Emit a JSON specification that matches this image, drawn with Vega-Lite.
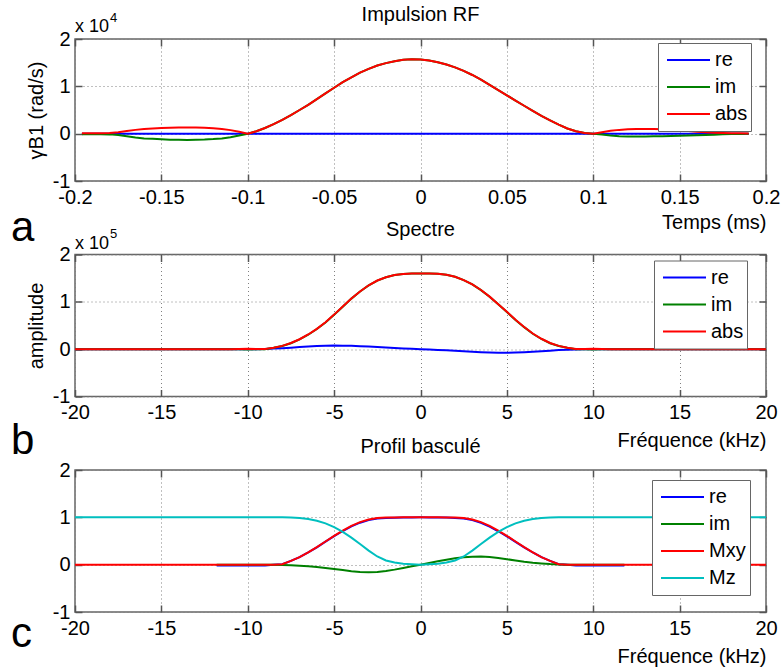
{
  "$schema": "https://vega.github.io/schema/vega-lite/v6.json",
  "padding": {"left": 10, "top": 4, "right": 0, "bottom": 0},
  "autosize": {"type": "pad"},
  "bounds": "flush",
  "spacing": 73.5,
  "background": "white",
  "config": {
    "font": "Liberation Sans",
    "view": {"stroke": "#666666", "strokeWidth": 1.5},
    "axis": {"labelFont": "Liberation Sans", "labelFontSize": 20, "labelColor": "#000000", "titleFont": "Liberation Sans", "titleFontSize": 20, "titleFontWeight": "normal", "titleColor": "#000000", "gridColor": "#808080", "gridDash": [1, 3], "gridOpacity": 1, "gridWidth": 1, "labelFlush": false, "labelOverlap": false},
    "title": {"font": "Liberation Sans", "fontSize": 20, "fontWeight": "normal", "color": "#000000", "frame": "group", "baseline": "alphabetic"},
    "text": {"font": "Liberation Sans", "color": "#000000"},
    "legend": {"orient": "none", "title": null, "symbolType": "stroke", "symbolSize": 1849, "symbolStrokeWidth": 2, "clipHeight": 27, "labelFont": "Liberation Sans", "labelFontSize": 20, "labelColor": "#000000", "fillColor": "white", "strokeColor": "#666666", "padding": 3.5, "labelOffset": 4, "symbolOffset": 4.5, "rowPadding": 0}
  },
  "resolve": {"scale": {"x": "independent", "y": "independent", "color": "independent"}, "legend": {"color": "independent"}},
  "vconcat": [
    {
      "width": 691, "height": 142,
      "title": {"text": "Impulsion RF", "offset": -13},
      "data": {"values": [
        {"t": -0.196, "re": 0, "im": -100, "abs": 100},
        {"t": -0.19, "re": 0, "im": -100, "abs": 100},
        {"t": -0.185, "re": 0, "im": -100, "abs": 100},
        {"t": -0.18, "re": 0, "im": -150, "abs": 150},
        {"t": -0.175, "re": 0, "im": -300, "abs": 300},
        {"t": -0.17, "re": 0, "im": -550, "abs": 550},
        {"t": -0.165, "re": 0, "im": -800, "abs": 800},
        {"t": -0.16, "re": 0, "im": -1000, "abs": 1000},
        {"t": -0.155, "re": 0, "im": -1100, "abs": 1100},
        {"t": -0.15, "re": 0, "im": -1200, "abs": 1200},
        {"t": -0.145, "re": 0, "im": -1270, "abs": 1270},
        {"t": -0.14, "re": 0, "im": -1300, "abs": 1300},
        {"t": -0.135, "re": 0, "im": -1320, "abs": 1320},
        {"t": -0.13, "re": 0, "im": -1300, "abs": 1300},
        {"t": -0.125, "re": 0, "im": -1250, "abs": 1250},
        {"t": -0.12, "re": 0, "im": -1150, "abs": 1150},
        {"t": -0.115, "re": 0, "im": -1000, "abs": 1000},
        {"t": -0.11, "re": 0, "im": -750, "abs": 750},
        {"t": -0.105, "re": 0, "im": -400, "abs": 400},
        {"t": -0.1, "re": 0, "im": 0, "abs": 0},
        {"t": -0.095, "re": 0, "im": 500, "abs": 500},
        {"t": -0.09, "re": 0, "im": 1200, "abs": 1200},
        {"t": -0.085, "re": 0, "im": 2000, "abs": 2000},
        {"t": -0.08, "re": 0, "im": 2900, "abs": 2900},
        {"t": -0.075, "re": 0, "im": 3900, "abs": 3900},
        {"t": -0.07, "re": 0, "im": 5000, "abs": 5000},
        {"t": -0.065, "re": 0, "im": 6100, "abs": 6100},
        {"t": -0.06, "re": 0, "im": 7300, "abs": 7300},
        {"t": -0.055, "re": 0, "im": 8500, "abs": 8500},
        {"t": -0.05, "re": 0, "im": 9700, "abs": 9700},
        {"t": -0.045, "re": 0, "im": 10900, "abs": 10900},
        {"t": -0.04, "re": 0, "im": 11900, "abs": 11900},
        {"t": -0.035, "re": 0, "im": 12900, "abs": 12900},
        {"t": -0.03, "re": 0, "im": 13700, "abs": 13700},
        {"t": -0.025, "re": 0, "im": 14400, "abs": 14400},
        {"t": -0.02, "re": 0, "im": 14900, "abs": 14900},
        {"t": -0.015, "re": 0, "im": 15300, "abs": 15300},
        {"t": -0.01, "re": 0, "im": 15600, "abs": 15600},
        {"t": -0.005, "re": 0, "im": 15700, "abs": 15700},
        {"t": 0, "re": 0, "im": 15650, "abs": 15650},
        {"t": 0.005, "re": 0, "im": 15450, "abs": 15450},
        {"t": 0.01, "re": 0, "im": 15100, "abs": 15100},
        {"t": 0.015, "re": 0, "im": 14600, "abs": 14600},
        {"t": 0.02, "re": 0, "im": 14000, "abs": 14000},
        {"t": 0.025, "re": 0, "im": 13250, "abs": 13250},
        {"t": 0.03, "re": 0, "im": 12400, "abs": 12400},
        {"t": 0.035, "re": 0, "im": 11400, "abs": 11400},
        {"t": 0.04, "re": 0, "im": 10300, "abs": 10300},
        {"t": 0.045, "re": 0, "im": 9200, "abs": 9200},
        {"t": 0.05, "re": 0, "im": 8100, "abs": 8100},
        {"t": 0.055, "re": 0, "im": 7000, "abs": 7000},
        {"t": 0.06, "re": 0, "im": 5900, "abs": 5900},
        {"t": 0.065, "re": 0, "im": 4800, "abs": 4800},
        {"t": 0.07, "re": 0, "im": 3750, "abs": 3750},
        {"t": 0.075, "re": 0, "im": 2800, "abs": 2800},
        {"t": 0.08, "re": 0, "im": 1900, "abs": 1900},
        {"t": 0.085, "re": 0, "im": 1100, "abs": 1100},
        {"t": 0.09, "re": 0, "im": 500, "abs": 500},
        {"t": 0.095, "re": 0, "im": 150, "abs": 150},
        {"t": 0.1, "re": 0, "im": 0, "abs": 0},
        {"t": 0.105, "re": 0, "im": -200, "abs": 300},
        {"t": 0.11, "re": 0, "im": -400, "abs": 600},
        {"t": 0.115, "re": 0, "im": -520, "abs": 800},
        {"t": 0.12, "re": 0, "im": -580, "abs": 920},
        {"t": 0.125, "re": 0, "im": -600, "abs": 1000},
        {"t": 0.13, "re": 0, "im": -600, "abs": 1000},
        {"t": 0.135, "re": 0, "im": -570, "abs": 980},
        {"t": 0.14, "re": 0, "im": -520, "abs": 920},
        {"t": 0.145, "re": 0, "im": -470, "abs": 820},
        {"t": 0.15, "re": 0, "im": -420, "abs": 700},
        {"t": 0.155, "re": 0, "im": -380, "abs": 550},
        {"t": 0.16, "re": 0, "im": -340, "abs": 400},
        {"t": 0.165, "re": 0, "im": -300, "abs": 280},
        {"t": 0.17, "re": 0, "im": -220, "abs": 200},
        {"t": 0.175, "re": 0, "im": -140, "abs": 140},
        {"t": 0.18, "re": 0, "im": -80, "abs": 100},
        {"t": 0.185, "re": 0, "im": -50, "abs": 80},
        {"t": 0.19, "re": 0, "im": -40, "abs": 60}
      ]},
      "resolve": {"axis": {"x": "independent", "y": "independent"}},
      "layer": [
        {
          "mark": {"type": "line", "strokeWidth": 2},
          "encoding": {
            "x": {"field": "t", "type": "quantitative", "scale": {"domain": [-0.2, 0.2], "nice": false, "zero": false},
              "axis": {"orient": "bottom", "values": [-0.2, -0.15, -0.1, -0.05, 0, 0.05, 0.1, 0.15, 0.2], "labelExpr": "replace(format(datum.value, '.2~f'), '−', '-')", "ticks": false, "tickSize": 0, "domain": false, "grid": true, "labelPadding": 6, "title": "Temps (ms)", "titleX": 691, "titleY": 47, "titleAlign": "right", "titleAnchor": "end", "titleBaseline": "alphabetic"}},
            "y": {"field": "re", "type": "quantitative", "scale": {"domain": [-10000, 20000], "nice": false, "zero": false},
              "axis": {"orient": "left", "values": [-10000, 0, 10000, 20000], "labelExpr": "replace(format(datum.value / 10000, 'd'), '−', '-')", "ticks": false, "tickSize": 0, "domain": false, "grid": true, "labelPadding": 5, "title": "γB1 (rad/s)", "titleX": -33, "titleY": 71, "titleAlign": "center", "titleAnchor": "middle", "titleBaseline": "alphabetic"}},
            "color": {"datum": "re", "type": "nominal", "scale": {"domain": ["re", "im", "abs"], "range": ["#0000FF", "#008000", "#FF0000"]}, "legend": {"legendX": 583, "legendY": 4}}
          }
        },
        {
          "mark": {"type": "line", "strokeWidth": 2},
          "encoding": {
            "x": {"field": "t", "type": "quantitative", "axis": {"orient": "bottom", "values": [-0.2, -0.15, -0.1, -0.05, 0, 0.05, 0.1, 0.15, 0.2], "labels": false, "ticks": true, "tickSize": -7, "tickColor": "#555555", "tickWidth": 1.5, "domain": false, "grid": false, "title": null}},
            "y": {"field": "im", "type": "quantitative", "axis": {"orient": "left", "values": [-10000, 0, 10000, 20000], "labels": false, "ticks": true, "tickSize": -7, "tickColor": "#555555", "tickWidth": 1.5, "domain": false, "grid": false, "title": null}},
            "color": {"datum": "im", "type": "nominal"}
          }
        },
        {
          "mark": {"type": "line", "strokeWidth": 2},
          "encoding": {
            "x": {"field": "t", "type": "quantitative", "axis": {"orient": "top", "values": [-0.2, -0.15, -0.1, -0.05, 0, 0.05, 0.1, 0.15, 0.2], "labels": false, "ticks": true, "tickSize": -7, "tickColor": "#555555", "tickWidth": 1.5, "domain": false, "grid": false, "title": null}},
            "y": {"field": "abs", "type": "quantitative", "axis": {"orient": "right", "values": [-10000, 0, 10000, 20000], "labels": false, "ticks": true, "tickSize": -7, "tickColor": "#555555", "tickWidth": 1.5, "domain": false, "grid": false, "title": null}},
            "color": {"datum": "abs", "type": "nominal"}
          }
        },
        {
          "data": {"values": [{"label": "x 10"}]},
          "mark": {"type": "text", "align": "left", "baseline": "alphabetic", "fontSize": 18, "dy": -7},
          "encoding": {"x": {"datum": -0.2, "type": "quantitative", "axis": null}, "y": {"datum": 20000, "type": "quantitative", "axis": null}, "text": {"field": "label"}}
        },
        {
          "data": {"values": [{"label": "4"}]},
          "mark": {"type": "text", "align": "left", "baseline": "alphabetic", "fontSize": 13, "dx": 35, "dy": -17},
          "encoding": {"x": {"datum": -0.2, "type": "quantitative", "axis": null}, "y": {"datum": 20000, "type": "quantitative", "axis": null}, "text": {"field": "label"}}
        },
        {
          "data": {"values": [{"label": "a"}]},
          "mark": {"type": "text", "align": "left", "baseline": "alphabetic", "fontSize": 42, "dx": -64, "dy": 60},
          "encoding": {"x": {"datum": -0.2, "type": "quantitative", "axis": null}, "y": {"datum": -10000, "type": "quantitative", "axis": null}, "text": {"field": "label"}}
        }
      ]
    },
    {
      "width": 691, "height": 142,
      "title": {"text": "Spectre", "offset": -12},
      "data": {"values": [
        {"f": -20, "re": 0, "im": 0, "abs": 0},
        {"f": -15, "re": 0, "im": 0, "abs": 0},
        {"f": -11, "re": 0, "im": 0, "abs": 0},
        {"f": -10.5, "re": 0, "im": -400, "abs": 400},
        {"f": -10, "re": 0, "im": -800, "abs": 800},
        {"f": -9.5, "re": 0, "im": -400, "abs": 400},
        {"f": -9, "re": 500, "im": 0, "abs": 500},
        {"f": -8.5, "re": 1200, "im": 2800, "abs": 3000},
        {"f": -8, "re": 2000, "im": 6700, "abs": 7000},
        {"f": -7.5, "re": 3200, "im": 12600, "abs": 13000},
        {"f": -7, "re": 4500, "im": 20500, "abs": 21000},
        {"f": -6.5, "re": 5600, "im": 30500, "abs": 31000},
        {"f": -6, "re": 6500, "im": 42500, "abs": 43000},
        {"f": -5.5, "re": 7100, "im": 56500, "abs": 57000},
        {"f": -5, "re": 7500, "im": 72600, "abs": 73000},
        {"f": -4.5, "re": 7400, "im": 89700, "abs": 90000},
        {"f": -4, "re": 7000, "im": 106800, "abs": 107000},
        {"f": -3.5, "re": 6300, "im": 121800, "abs": 122000},
        {"f": -3, "re": 5500, "im": 134900, "abs": 135000},
        {"f": -2.5, "re": 4500, "im": 144900, "abs": 145000},
        {"f": -2, "re": 3500, "im": 152000, "abs": 152000},
        {"f": -1.5, "re": 2500, "im": 156500, "abs": 156500},
        {"f": -1, "re": 1500, "im": 159000, "abs": 159000},
        {"f": -0.5, "re": 700, "im": 160000, "abs": 160000},
        {"f": 0, "re": 0, "im": 160000, "abs": 160000},
        {"f": 0.5, "re": -700, "im": 160000, "abs": 160000},
        {"f": 1, "re": -1500, "im": 159500, "abs": 159500},
        {"f": 1.5, "re": -2500, "im": 157000, "abs": 157000},
        {"f": 2, "re": -3500, "im": 153000, "abs": 153000},
        {"f": 2.5, "re": -4500, "im": 145900, "abs": 146000},
        {"f": 3, "re": -5500, "im": 136900, "abs": 137000},
        {"f": 3.5, "re": -6300, "im": 124800, "abs": 125000},
        {"f": 4, "re": -7000, "im": 110800, "abs": 111000},
        {"f": 4.5, "re": -7400, "im": 94700, "abs": 95000},
        {"f": 5, "re": -7500, "im": 78600, "abs": 79000},
        {"f": 5.5, "re": -7100, "im": 61600, "abs": 62000},
        {"f": 6, "re": -6500, "im": 46500, "abs": 47000},
        {"f": 6.5, "re": -5600, "im": 32500, "abs": 33000},
        {"f": 7, "re": -4500, "im": 21500, "abs": 22000},
        {"f": 7.5, "re": -3200, "im": 12600, "abs": 13000},
        {"f": 8, "re": -2000, "im": 6700, "abs": 7000},
        {"f": 8.5, "re": -1200, "im": 2800, "abs": 3000},
        {"f": 9, "re": -500, "im": 0, "abs": 500},
        {"f": 9.5, "re": 0, "im": -400, "abs": 400},
        {"f": 10, "re": 0, "im": -800, "abs": 800},
        {"f": 10.5, "re": 0, "im": -400, "abs": 400},
        {"f": 11, "re": 0, "im": 0, "abs": 0},
        {"f": 15, "re": 0, "im": 0, "abs": 0},
        {"f": 20, "re": 0, "im": 0, "abs": 0}
      ]},
      "resolve": {"axis": {"x": "independent", "y": "independent"}},
      "layer": [
        {
          "mark": {"type": "line", "strokeWidth": 2},
          "encoding": {
            "x": {"field": "f", "type": "quantitative", "scale": {"domain": [-20, 20], "nice": false, "zero": false},
              "axis": {"orient": "bottom", "values": [-20, -15, -10, -5, 0, 5, 10, 15, 20], "labelExpr": "replace(format(datum.value, 'd'), '−', '-')", "ticks": false, "tickSize": 0, "domain": false, "grid": true, "labelPadding": 6, "title": "Fréquence (kHz)", "titleX": 691, "titleY": 50, "titleAlign": "right", "titleAnchor": "end", "titleBaseline": "alphabetic"}},
            "y": {"field": "re", "type": "quantitative", "scale": {"domain": [-100000, 200000], "nice": false, "zero": false},
              "axis": {"orient": "left", "values": [-100000, 0, 100000, 200000], "labelExpr": "replace(format(datum.value / 100000, 'd'), '−', '-')", "ticks": false, "tickSize": 0, "domain": false, "grid": true, "labelPadding": 5, "title": "amplitude", "titleX": -33, "titleY": 71, "titleAlign": "center", "titleAnchor": "middle", "titleBaseline": "alphabetic"}},
            "color": {"datum": "re", "type": "nominal", "scale": {"domain": ["re", "im", "abs"], "range": ["#0000FF", "#008000", "#FF0000"]}, "legend": {"legendX": 579, "legendY": 6}}
          }
        },
        {
          "mark": {"type": "line", "strokeWidth": 2},
          "encoding": {
            "x": {"field": "f", "type": "quantitative", "axis": {"orient": "bottom", "values": [-20, -15, -10, -5, 0, 5, 10, 15, 20], "labels": false, "ticks": true, "tickSize": -7, "tickColor": "#555555", "tickWidth": 1.5, "domain": false, "grid": false, "title": null}},
            "y": {"field": "im", "type": "quantitative", "axis": {"orient": "left", "values": [-100000, 0, 100000, 200000], "labels": false, "ticks": true, "tickSize": -7, "tickColor": "#555555", "tickWidth": 1.5, "domain": false, "grid": false, "title": null}},
            "color": {"datum": "im", "type": "nominal"}
          }
        },
        {
          "mark": {"type": "line", "strokeWidth": 2},
          "encoding": {
            "x": {"field": "f", "type": "quantitative", "axis": {"orient": "top", "values": [-20, -15, -10, -5, 0, 5, 10, 15, 20], "labels": false, "ticks": true, "tickSize": -7, "tickColor": "#555555", "tickWidth": 1.5, "domain": false, "grid": false, "title": null}},
            "y": {"field": "abs", "type": "quantitative", "axis": {"orient": "right", "values": [-100000, 0, 100000, 200000], "labels": false, "ticks": true, "tickSize": -7, "tickColor": "#555555", "tickWidth": 1.5, "domain": false, "grid": false, "title": null}},
            "color": {"datum": "abs", "type": "nominal"}
          }
        },
        {
          "data": {"values": [{"label": "x 10"}]},
          "mark": {"type": "text", "align": "left", "baseline": "alphabetic", "fontSize": 18, "dy": -6},
          "encoding": {"x": {"datum": -20, "type": "quantitative", "axis": null}, "y": {"datum": 200000, "type": "quantitative", "axis": null}, "text": {"field": "label"}}
        },
        {
          "data": {"values": [{"label": "5"}]},
          "mark": {"type": "text", "align": "left", "baseline": "alphabetic", "fontSize": 13, "dx": 35, "dy": -17},
          "encoding": {"x": {"datum": -20, "type": "quantitative", "axis": null}, "y": {"datum": 200000, "type": "quantitative", "axis": null}, "text": {"field": "label"}}
        },
        {
          "data": {"values": [{"label": "b"}]},
          "mark": {"type": "text", "align": "left", "baseline": "alphabetic", "fontSize": 42, "dx": -64, "dy": 57},
          "encoding": {"x": {"datum": -20, "type": "quantitative", "axis": null}, "y": {"datum": -100000, "type": "quantitative", "axis": null}, "text": {"field": "label"}}
        }
      ]
    },
    {
      "width": 691, "height": 142,
      "title": {"text": "Profil basculé", "offset": 3},
      "data": {"values": [
        {"f": -20, "Mxy": 0, "Mz": 1},
        {"f": -15, "Mxy": 0, "Mz": 1},
        {"f": -12, "Mxy": 0, "Mz": 1},
        {"f": -11.8, "re": -0.015, "im": 0, "Mxy": 0, "Mz": 1},
        {"f": -11, "re": -0.015, "im": 0, "Mxy": 0, "Mz": 1},
        {"f": -10, "re": -0.015, "im": 0, "Mxy": 0, "Mz": 1},
        {"f": -9, "re": -0.015, "im": 0, "Mxy": 0, "Mz": 1},
        {"f": -8.5, "re": 0, "im": 0, "Mxy": 0, "Mz": 1},
        {"f": -8, "re": 0.009, "im": -0.005, "Mxy": 0.01, "Mz": 1},
        {"f": -7.5, "re": 0.079, "im": -0.012, "Mxy": 0.08, "Mz": 0.997},
        {"f": -7, "re": 0.158, "im": -0.022, "Mxy": 0.16, "Mz": 0.987},
        {"f": -6.5, "re": 0.258, "im": -0.035, "Mxy": 0.26, "Mz": 0.966},
        {"f": -6, "re": 0.367, "im": -0.05, "Mxy": 0.37, "Mz": 0.929},
        {"f": -5.5, "re": 0.485, "im": -0.07, "Mxy": 0.49, "Mz": 0.872},
        {"f": -5, "re": 0.603, "im": -0.09, "Mxy": 0.61, "Mz": 0.792},
        {"f": -4.5, "re": 0.711, "im": -0.115, "Mxy": 0.72, "Mz": 0.694},
        {"f": -4, "re": 0.808, "im": -0.14, "Mxy": 0.82, "Mz": 0.572},
        {"f": -3.5, "re": 0.887, "im": -0.155, "Mxy": 0.9, "Mz": 0.436},
        {"f": -3, "re": 0.941, "im": -0.16, "Mxy": 0.955, "Mz": 0.297},
        {"f": -2.5, "re": 0.973, "im": -0.155, "Mxy": 0.985, "Mz": 0.173},
        {"f": -2, "re": 0.987, "im": -0.135, "Mxy": 0.996, "Mz": 0.089},
        {"f": -1.5, "re": 0.993, "im": -0.105, "Mxy": 0.999, "Mz": 0.045},
        {"f": -1, "re": 0.998, "im": -0.07, "Mxy": 1, "Mz": 0.02},
        {"f": -0.5, "re": 0.999, "im": -0.035, "Mxy": 1, "Mz": 0.008},
        {"f": 0, "re": 1, "im": 0, "Mxy": 1, "Mz": 0},
        {"f": 0.5, "re": 0.999, "im": 0.035, "Mxy": 1, "Mz": 0.008},
        {"f": 1, "re": 0.998, "im": 0.07, "Mxy": 1, "Mz": 0.02},
        {"f": 1.5, "re": 0.994, "im": 0.105, "Mxy": 0.999, "Mz": 0.045},
        {"f": 2, "re": 0.987, "im": 0.135, "Mxy": 0.996, "Mz": 0.089},
        {"f": 2.5, "re": 0.973, "im": 0.155, "Mxy": 0.985, "Mz": 0.173},
        {"f": 3, "re": 0.941, "im": 0.165, "Mxy": 0.955, "Mz": 0.297},
        {"f": 3.5, "re": 0.884, "im": 0.17, "Mxy": 0.9, "Mz": 0.436},
        {"f": 4, "re": 0.804, "im": 0.16, "Mxy": 0.82, "Mz": 0.572},
        {"f": 4.5, "re": 0.706, "im": 0.14, "Mxy": 0.72, "Mz": 0.694},
        {"f": 5, "re": 0.599, "im": 0.115, "Mxy": 0.61, "Mz": 0.792},
        {"f": 5.5, "re": 0.482, "im": 0.09, "Mxy": 0.49, "Mz": 0.872},
        {"f": 6, "re": 0.365, "im": 0.06, "Mxy": 0.37, "Mz": 0.929},
        {"f": 6.5, "re": 0.257, "im": 0.04, "Mxy": 0.26, "Mz": 0.966},
        {"f": 7, "re": 0.158, "im": 0.025, "Mxy": 0.16, "Mz": 0.987},
        {"f": 7.5, "re": 0.079, "im": 0.012, "Mxy": 0.08, "Mz": 0.997},
        {"f": 8, "re": 0.009, "im": 0.005, "Mxy": 0.01, "Mz": 1},
        {"f": 8.5, "re": 0, "im": 0, "Mxy": 0, "Mz": 1},
        {"f": 9, "re": -0.015, "im": 0, "Mxy": 0, "Mz": 1},
        {"f": 10, "re": -0.015, "im": 0, "Mxy": 0, "Mz": 1},
        {"f": 11, "re": -0.015, "im": 0, "Mxy": 0, "Mz": 1},
        {"f": 11.8, "re": -0.015, "im": 0, "Mxy": 0, "Mz": 1},
        {"f": 12, "Mxy": 0, "Mz": 1},
        {"f": 15, "Mxy": 0, "Mz": 1},
        {"f": 20, "Mxy": 0, "Mz": 1}
      ]},
      "resolve": {"axis": {"x": "independent", "y": "independent"}},
      "layer": [
        {
          "mark": {"type": "line", "strokeWidth": 2},
          "encoding": {
            "x": {"field": "f", "type": "quantitative", "scale": {"domain": [-20, 20], "nice": false, "zero": false},
              "axis": {"orient": "bottom", "values": [-20, -15, -10, -5, 0, 5, 10, 15, 20], "labelExpr": "replace(format(datum.value, 'd'), '−', '-')", "ticks": false, "tickSize": 0, "domain": false, "grid": true, "labelPadding": 6, "title": "Fréquence (kHz)", "titleX": 691, "titleY": 50, "titleAlign": "right", "titleAnchor": "end", "titleBaseline": "alphabetic"}},
            "y": {"field": "re", "type": "quantitative", "scale": {"domain": [-1, 2], "nice": false, "zero": false},
              "axis": {"orient": "left", "values": [-1, 0, 1, 2], "labelExpr": "replace(format(datum.value, 'd'), '−', '-')", "ticks": false, "tickSize": 0, "domain": false, "grid": true, "labelPadding": 5, "title": null}},
            "color": {"datum": "re", "type": "nominal", "scale": {"domain": ["re", "im", "Mxy", "Mz"], "range": ["#0000FF", "#008000", "#FF0000", "#00BFBF"]}, "legend": {"legendX": 577, "legendY": 10}}
          }
        },
        {
          "mark": {"type": "line", "strokeWidth": 2},
          "encoding": {
            "x": {"field": "f", "type": "quantitative", "axis": {"orient": "bottom", "values": [-20, -15, -10, -5, 0, 5, 10, 15, 20], "labels": false, "ticks": true, "tickSize": -7, "tickColor": "#555555", "tickWidth": 1.5, "domain": false, "grid": false, "title": null}},
            "y": {"field": "im", "type": "quantitative", "axis": {"orient": "left", "values": [-1, 0, 1, 2], "labels": false, "ticks": true, "tickSize": -7, "tickColor": "#555555", "tickWidth": 1.5, "domain": false, "grid": false, "title": null}},
            "color": {"datum": "im", "type": "nominal"}
          }
        },
        {
          "mark": {"type": "line", "strokeWidth": 2},
          "encoding": {
            "x": {"field": "f", "type": "quantitative", "axis": {"orient": "top", "values": [-20, -15, -10, -5, 0, 5, 10, 15, 20], "labels": false, "ticks": true, "tickSize": -7, "tickColor": "#555555", "tickWidth": 1.5, "domain": false, "grid": false, "title": null}},
            "y": {"field": "Mxy", "type": "quantitative", "axis": {"orient": "right", "values": [-1, 0, 1, 2], "labels": false, "ticks": true, "tickSize": -7, "tickColor": "#555555", "tickWidth": 1.5, "domain": false, "grid": false, "title": null}},
            "color": {"datum": "Mxy", "type": "nominal"}
          }
        },
        {
          "mark": {"type": "line", "strokeWidth": 2},
          "encoding": {
            "x": {"field": "f", "type": "quantitative", "axis": null},
            "y": {"field": "Mz", "type": "quantitative", "axis": null},
            "color": {"datum": "Mz", "type": "nominal"}
          }
        },
        {
          "data": {"values": [{"label": "c"}]},
          "mark": {"type": "text", "align": "left", "baseline": "alphabetic", "fontSize": 42, "dx": -64, "dy": 35},
          "encoding": {"x": {"datum": -20, "type": "quantitative", "axis": null}, "y": {"datum": -1, "type": "quantitative", "axis": null}, "text": {"field": "label"}}
        }
      ]
    }
  ]
}
